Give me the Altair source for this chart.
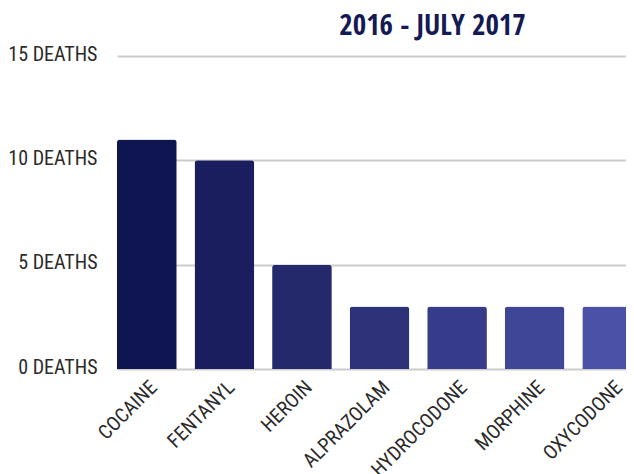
import altair as alt
import pandas as pd

drugs = ["COCAINE", "FENTANYL", "HEROIN", "ALPRAZOLAM", "HYDROCODONE", "MORPHINE", "OXYCODONE"]
deaths = [11, 10, 5, 3, 3, 3, 3]
colors = ["#0e1550", "#1a1e5e", "#24296b", "#2d3279", "#363c89", "#404697", "#4a51a7"]

df = pd.DataFrame({"drug": drugs, "deaths": deaths, "color": colors})

FONT = "Roboto Condensed"
TFONT = "Open Sans Condensed"

chart = alt.Chart(df).mark_bar(cornerRadiusTopLeft=3, cornerRadiusTopRight=3).encode(
    x=alt.X("drug:N", sort=drugs, title=None,
            scale=alt.Scale(range=[0, 525], paddingInner=0.23, paddingOuter=0),
            axis=alt.Axis(labelAngle=-45, labelAlign="right", labelBaseline="top",
                          labelPadding=8, domain=False, ticks=False,
                          labelFont=FONT, labelFontSize=20, labelColor="#2b2b2b")),
    y=alt.Y("deaths:Q", title=None,
            scale=alt.Scale(domain=[0, 15], nice=False),
            axis=alt.Axis(values=[0, 5, 10, 15], labelExpr="datum.value + ' DEATHS'",
                          domain=False, ticks=False, labelPadding=20, labelOffset=-2,
                          gridColor="#cccccc", gridWidth=2,
                          labelFont=FONT, labelFontSize=20, labelColor="#2b2b2b")),
    color=alt.Color("color:N", scale=None),
).properties(
    width=509,
    height=313,
    title=alt.TitleParams("2016 - JULY 2017", font=TFONT, fontSize=29, fontWeight="bold",
                          color="#151a55", anchor="middle", dx=61, offset=3),
    autosize=alt.AutoSizeParams(type="none"),
    padding={"left": 109, "top": 48, "right": 0, "bottom": 105},
).configure_view(stroke=None)

chart.save("out.html", embed_options={"renderer": "svg", "actions": False})
